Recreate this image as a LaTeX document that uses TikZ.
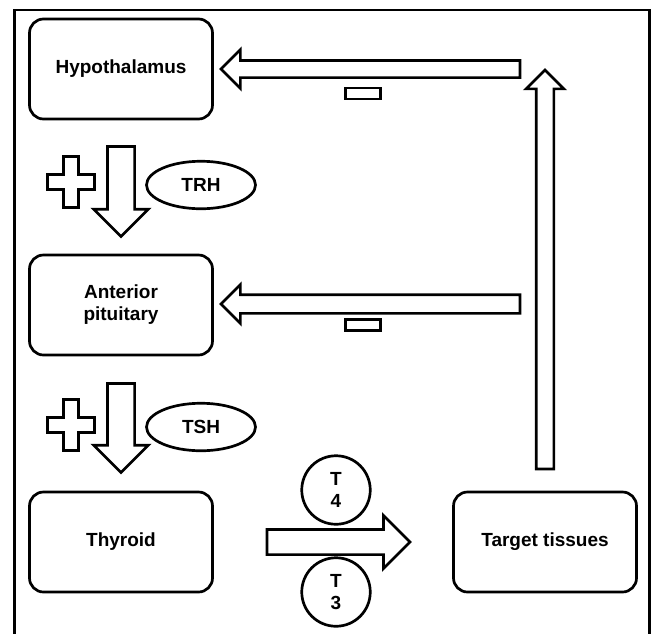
\documentclass[tikz,border=0pt]{standalone}
\usepackage{fontspec}
\setmainfont{Liberation Sans}
\usetikzlibrary{shapes.geometric,shapes.arrows}

\begin{document}
\begin{tikzpicture}[x=1pt,y=-1pt]
            \tikzset{
	every node/.style={font=\bfseries\fontsize{19}{22}\selectfont},
	outline/.style={draw, line width=2.7pt, line join=miter},
	organ/.style={outline, rounded corners=14pt, minimum width=183pt, minimum height=100pt, align=center, inner sep=0pt},
	hormone/.style={outline, ellipse, minimum width=109pt, minimum height=47.5pt, inner sep=0pt},
	iodo/.style={outline, circle, minimum size=68.5pt, inner sep=0pt, align=center},
	minus/.style={outline, minimum width=35pt, minimum height=11pt, inner sep=0pt},
	fatarrow/.style={outline, single arrow, single arrow head indent=0pt, outer sep=0pt},
	plussign/.pic={\draw[outline] (-7.5,-25.5) -- (7.5,-25.5) -- (7.5,-7.5) -- (23.5,-7.5) -- (23.5,7.5) -- (7.5,7.5) -- (7.5,25.5) -- (-7.5,25.5) -- (-7.5,7.5) -- (-23.5,7.5) -- (-23.5,-7.5) -- (-7.5,-7.5) -- cycle;}
}
\useasboundingbox (0,0) rectangle (653,633);

% frame
\draw[outline] (14.5,640) |- (649.5,10) -- (649.5,640);

% organs
\node[organ] (hypo) at (121,69) {Hypothalamus};
\node[organ] (antpit) at (121,305) {Anterior\\pituitary};
\node[organ] (thyroid) at (121,542) {Thyroid};
\node[organ] (target) at (545,542) {Target tissues};

% stimulation
\node[fatarrow, shape border rotate=270, inner sep=12.25pt, minimum width=52pt, single arrow head extend=13.75pt, minimum height=90pt, anchor=tail] (stima) at (121,146.5) {};
\node[fatarrow, shape border rotate=270, inner sep=12.25pt, minimum width=52pt, single arrow head extend=13.75pt, minimum height=89pt, anchor=tail] (stimb) at (121,383.5) {};
\pic at (71,182) {plussign};
\pic at (71,425) {plussign};
\node[hormone] (trh) at (201,185) {TRH};
\node[hormone] (tsh) at (201,427) {TSH};

% release of T4 / T3
\node[fatarrow, inner sep=11.25pt, minimum width=50.5pt, single arrow head extend=14pt, minimum height=143pt, anchor=tail] (release) at (267,542) {};
\node[iodo] (tfour) at (336,490) {T\\4};
\node[iodo] (tthree) at (336,592) {T\\3};

% negative feedback
\node[fatarrow, shape border rotate=90, inner sep=7.5pt, minimum width=35pt, single arrow head extend=10pt, minimum height=399pt, anchor=tail] (rise) at (545,469) {};
\node[fatarrow, shape border rotate=180, inner sep=7.25pt, minimum width=36pt, single arrow head extend=10.75pt, minimum height=299pt, anchor=tip] (fba) at (221,69) {};
\node[fatarrow, shape border rotate=180, inner sep=8pt, minimum width=36pt, single arrow head extend=10pt, minimum height=299pt, anchor=tip] (fbb) at (221,304) {};
\node[minus] (inha) at (363,93.5) {};
\node[minus] (inhb) at (363,325) {};
        \end{tikzpicture}
\end{document}
